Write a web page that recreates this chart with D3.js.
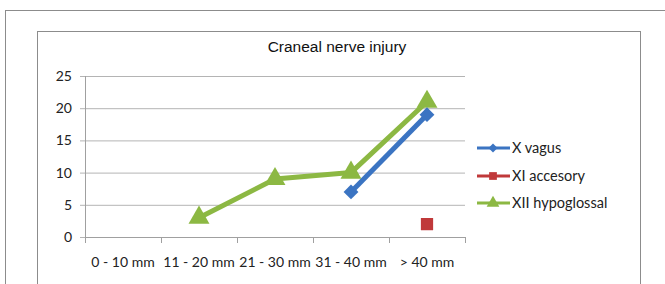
<!DOCTYPE html>
<html>
<head>
<meta charset="utf-8">
<script src="https://cdn.jsdelivr.net/npm/d3@7"></script>
<style>
    body { margin: 0; background: #fff; }
    svg { display: block; }
</style>
</head>
<body>
<div id="chart"></div>
<script>
"use strict";

// chart data
const categories = ["0 - 10 mm", "11 - 20 mm", "21 - 30 mm", "31 - 40 mm", "> 40 mm"];
const seriesNames = ["X vagus", "XI accesory", "XII hypoglossal"];
const vagus = [null, null, null, 7, 19];
const accesory = [null, null, null, null, 2];
const hypoglossal = [null, 3, 9, 10, 21];
const yTicks = [0, 5, 10, 15, 20, 25];

const msm = {
    width: 665,
    height: 284,
    plotLeft: 85,
    plotRight: 465,
    plotTop: 76,
    plotBottom: 237
};

const colors = ["#3b74c2", "#c0393a", "#8cb843"];
const symbols = [d3.symbolSquare, d3.symbolSquare, d3.symbolTriangle];
const rotations = [45, 0, 0];

const svg = d3.select("#chart")
    .append("svg")
    .attr("width", msm.width)
    .attr("height", msm.height);

// outer and inner frames
svg.append("rect")
    .attr("x", 5.5).attr("y", 10.5)
    .attr("width", 700).attr("height", 300)
    .attr("fill", "none")
    .attr("stroke", "#8c8c8c");
svg.append("rect")
    .attr("x", 37.5).attr("y", 31.5)
    .attr("width", 603).attr("height", 300)
    .attr("fill", "#fff")
    .attr("stroke", "#8c8c8c");

// scales
let xBand = d3.scaleBand()
    .domain(categories)
    .range([msm.plotLeft, msm.plotRight]);
let xMap = (i) => xBand(categories[i]) + xBand.bandwidth() / 2;

let yScale = d3.scaleLinear()
    .domain([0, 25])
    .range([msm.plotBottom, msm.plotTop]);

// gridlines + y axis labels
let yAxis = d3.axisLeft(yScale)
    .tickValues(yTicks)
    .tickSize(-(msm.plotRight - msm.plotLeft + 5))
    .tickPadding(8);
let gy = svg.append("g")
    .attr("transform", "translate(" + (msm.plotLeft - 5) + ",0)")
    .call(yAxis);
gy.select(".domain").remove();
gy.selectAll(".tick line").attr("stroke", "#b4b4b4");
gy.selectAll(".tick text")
    .attr("fill", "#222")
    .style("font-family", "Lato, 'Open Sans', sans-serif")
    .style("font-size", "14px");

// y axis line
svg.append("line")
    .attr("x1", msm.plotLeft + 0.5).attr("x2", msm.plotLeft + 0.5)
    .attr("y1", msm.plotTop).attr("y2", msm.plotBottom)
    .attr("stroke", "#a0a0a0");

// x axis: labels centred, ticks at band edges
let xAxis = d3.axisBottom(xBand).tickSize(0).tickPadding(20);
let gx = svg.append("g")
    .attr("transform", "translate(0," + msm.plotBottom + ")")
    .call(xAxis);
gx.select(".domain").remove();
gx.selectAll(".tick text")
    .attr("fill", "#222")
    .style("font-family", "Lato, 'Open Sans', sans-serif")
    .style("font-size", "14px");

svg.append("line")
    .attr("x1", msm.plotLeft).attr("x2", msm.plotRight)
    .attr("y1", msm.plotBottom + 0.5).attr("y2", msm.plotBottom + 0.5)
    .attr("stroke", "#a0a0a0");

let edges = categories.map((c) => xBand(c));
edges.push(msm.plotRight);
svg.selectAll(".xedge")
    .data(edges)
    .enter()
    .append("line")
    .attr("class", "xedge")
    .attr("x1", (d) => Math.round(d) + 0.5)
    .attr("x2", (d) => Math.round(d) + 0.5)
    .attr("y1", msm.plotBottom)
    .attr("y2", msm.plotBottom + 6)
    .attr("stroke", "#a0a0a0");

// title
svg.append("text")
    .attr("x", 337)
    .attr("y", 52)
    .attr("text-anchor", "middle")
    .attr("fill", "#111")
    .style("font-family", "'Liberation Sans', Arial, sans-serif")
    .style("font-size", "15.5px")
    .text("Craneal nerve injury");

// series
const series = [vagus, accesory, hypoglossal];
let line = d3.line()
    .defined((d) => d.v !== null)
    .x((d) => xMap(d.i))
    .y((d) => yScale(d.v));

// draw hypoglossal first so vagus sits on top like the original
const sizes = [110, 150, 190];
[2, 1, 0].forEach((s) => {
    let pts = series[s].map((v, i) => ({ v: v, i: i }));
    svg.append("path")
        .datum(pts)
        .attr("d", line)
        .attr("fill", "none")
        .attr("stroke", colors[s])
        .attr("stroke-width", 5)
        .attr("stroke-linejoin", "round");

    svg.selectAll(".mark" + s)
        .data(pts.filter((d) => d.v !== null))
        .enter()
        .append("path")
        .attr("class", "mark" + s)
        .attr("transform", (d) => "translate(" + xMap(d.i) + "," + yScale(d.v) + ") rotate(" + rotations[s] + ")")
        .attr("d", d3.symbol().type(symbols[s]).size(sizes[s]))
        .attr("fill", colors[s]);
});

// legend
let legend = svg.append("g");
let legendY = [148, 176, 203];
const legendSizes = [40, 60, 70];
seriesNames.forEach((name, i) => {
    legend.append("line")
        .attr("x1", 477).attr("x2", 510)
        .attr("y1", legendY[i]).attr("y2", legendY[i])
        .attr("stroke", colors[i])
        .attr("stroke-width", 3);
    legend.append("path")
        .attr("transform", "translate(493," + legendY[i] + ") rotate(" + rotations[i] + ")")
        .attr("d", d3.symbol().type(symbols[i]).size(legendSizes[i]))
        .attr("fill", colors[i]);
    legend.append("text")
        .attr("x", 512)
        .attr("y", legendY[i])
        .attr("dy", "0.35em")
        .attr("fill", "#222")
        .style("font-family", "Lato, 'Open Sans', sans-serif")
        .style("font-size", "14.5px")
        .text(name);
});
</script>
</body>
</html>
